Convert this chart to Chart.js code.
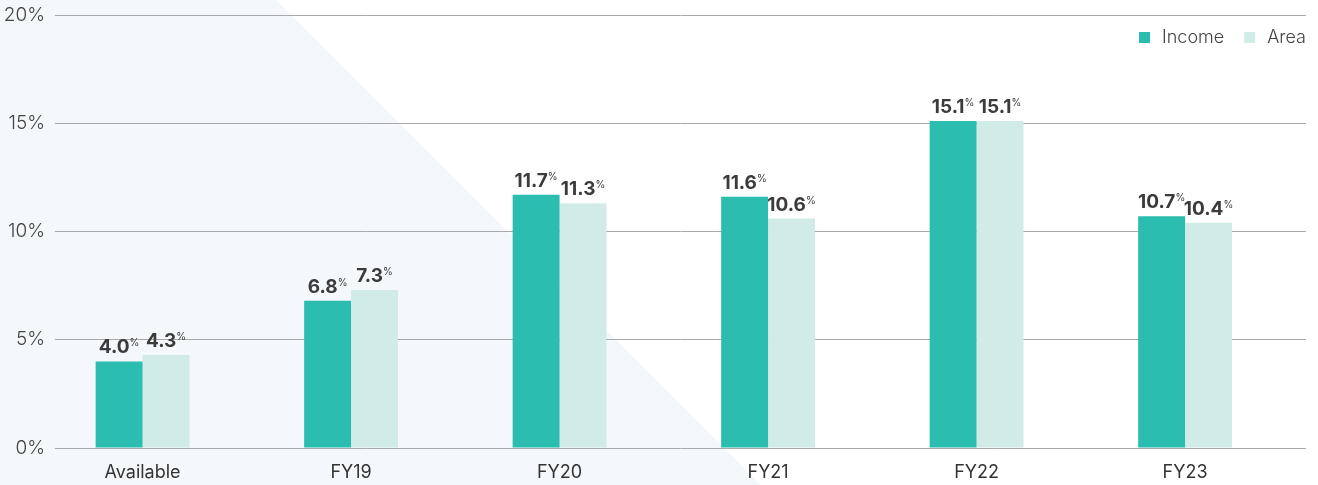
<!DOCTYPE html>
<html>
<head>
<meta charset="utf-8">
<script src="https://cdn.jsdelivr.net/npm/chart.js@4.4.0/dist/chart.umd.min.js"></script>
<style>
  html, body { margin: 0; padding: 0; background: #fff; }
  #wrap { width: 1318px; height: 485px; position: relative; }
</style>
</head>
<body>
<div id="wrap"><canvas id="myChart"></canvas></div>
<script>
var categories = ["Available", "FY19", "FY20", "FY21", "FY22", "FY23"];
var incomeValues = [4.0, 6.8, 11.7, 11.6, 15.1, 10.7];
var areaValues = [4.3, 7.3, 11.3, 10.6, 15.1, 10.4];
var seriesNames = ["Income", "Area"];
var seriesColors = ["#2bbdaf", "#d1ebe7"];

var fontFamily = "Inter, 'Noto Sans', sans-serif";

// bars sit on a linear x axis so the groups can be shifted left of the grid
function toPoints(values) {
    return values.map(function (v, i) { return { x: i, y: v }; });
}

// light blue diagonal panel behind the chart
var backgroundPlugin = {
    id: "bgPanel",
    beforeDraw: function (chart) {
        var ctx = chart.ctx;
        ctx.save();
        ctx.fillStyle = "#f4f8fc";
        ctx.beginPath();
        ctx.moveTo(0, 0);
        ctx.lineTo(276, 0);
        ctx.lineTo(276 + chart.height, chart.height);
        ctx.lineTo(0, chart.height);
        ctx.closePath();
        ctx.fill();
        ctx.restore();
    }
};

// value labels with small superscript %
var valueLabelPlugin = {
    id: "valueLabels",
    afterDatasetsDraw: function (chart) {
        var ctx = chart.ctx;
        ctx.save();
        ctx.fillStyle = "#3b3b3b";
        ctx.textBaseline = "alphabetic";
        chart.data.datasets.forEach(function (dataset, i) {
            var meta = chart.getDatasetMeta(i);
            meta.data.forEach(function (bar, index) {
                var num = dataset.data[index].y.toFixed(1);
                ctx.font = "700 19px " + fontFamily;
                var w1 = ctx.measureText(num).width;
                ctx.font = "400 10px " + fontFamily;
                var w2 = ctx.measureText("%").width;
                var x = bar.x - (w1 + w2) / 2;
                var y = bar.y - 8;
                ctx.font = "700 19px " + fontFamily;
                ctx.textAlign = "left";
                ctx.fillText(num, x, y);
                ctx.font = "400 10px " + fontFamily;
                ctx.fillText("%", x + w1, y - 7);
            });
        });
        ctx.restore();
    }
};

// legend drawn inside the top-right of the plot
var legendPlugin = {
    id: "cornerLegend",
    afterDraw: function (chart) {
        var ctx = chart.ctx;
        ctx.save();
        ctx.font = "300 18px " + fontFamily;
        ctx.textBaseline = "middle";
        ctx.textAlign = "left";
        var x = chart.chartArea.right;
        var y = 38;
        for (var i = seriesNames.length - 1; i >= 0; i--) {
            var tw = ctx.measureText(seriesNames[i]).width;
            x -= tw;
            ctx.fillStyle = "#444";
            ctx.fillText(seriesNames[i], x, y);
            x -= 12 + 11;
            ctx.fillStyle = seriesColors[i];
            ctx.fillRect(x, y - 6, 11, 11);
            x -= 20;
        }
        ctx.restore();
    }
};

var chart = new Chart("myChart", {
    type: "bar",
    data: {
        datasets: [
            { label: seriesNames[0], data: toPoints(incomeValues), backgroundColor: seriesColors[0] },
            { label: seriesNames[1], data: toPoints(areaValues), backgroundColor: seriesColors[1] }
        ]
    },
    options: {
        responsive: true,
        maintainAspectRatio: false,
        animation: false,
        categoryPercentage: 0.45,
        barPercentage: 1,
        layout: { padding: { top: 15, right: 12, left: 0, bottom: 0 } },
        plugins: {
            legend: { display: false },
            tooltip: { enabled: false }
        },
        scales: {
            x: {
                type: "linear",
                offset: false,
                bounds: "data",
                min: -0.42,
                max: 5.58,
                grid: { display: false, offset: false },
                border: { display: false },
                ticks: {
                    autoSkip: false,
                    maxRotation: 0,
                    color: "#333",
                    font: { family: fontFamily, size: 18 },
                    padding: 6,
                    callback: function (v) { return categories[v] || ""; }
                },
                afterBuildTicks: function (scale) {
                    scale.ticks = categories.map(function (c, i) { return { value: i }; });
                },
                afterFit: function (scale) { scale.height = 37; }
            },
            y: {
                min: 0,
                max: 20,
                ticks: {
                    stepSize: 5,
                    color: "#444",
                    padding: 10,
                    font: { family: fontFamily, size: 19, weight: 300 },
                    callback: function (v) { return v + "%"; }
                },
                grid: { color: "#a9a9a9", lineWidth: 1, drawTicks: false },
                border: { display: false },
                afterFit: function (scale) {
                    scale.width = 55;
                    scale.paddingTop = 0;
                    scale.paddingBottom = 0;
                }
            }
        }
    },
    plugins: [backgroundPlugin, valueLabelPlugin, legendPlugin]
});
</script>
</body>
</html>
